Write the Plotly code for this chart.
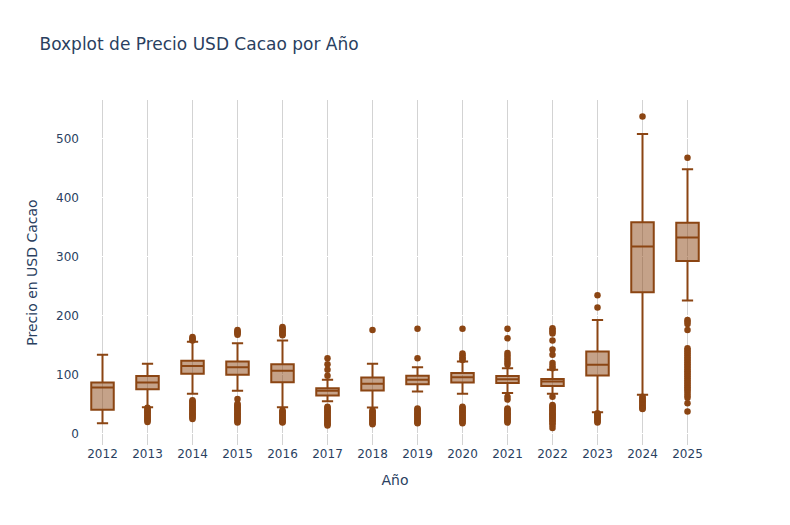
import plotly.graph_objects as go

years = ["2012", "2013", "2014", "2015", "2016", "2017", "2018",
         "2019", "2020", "2021", "2022", "2023", "2024", "2025"]
q1 = [40.7, 75.7, 101.7, 100, 87.6, 65, 73.5, 84, 87, 86, 81, 98.8, 240, 293]
median = [78.5, 87, 115, 113, 107, 73, 85, 91.5, 96, 92.6, 88.7, 117, 317.5, 333]
q3 = [87, 98, 124, 122.6, 118, 77.4, 95.5, 98.3, 103, 98, 93, 139.5, 358.8, 358]
lowerfence = [18, 45, 68, 73, 45, 55, 44.6, 71.7, 67.8, 69, 67.8, 36.7, 66, 226]
upperfence = [134, 118.6, 156, 153.6, 158, 91.5, 118.6, 113, 122.6, 111, 108.5, 193, 508.5, 448.6]

outliers = {
    "2012": [],
    "2013": [44, 42, 40, 38, 36, 34, 32, 30, 28, 26, 24, 22, 20],
    "2014": [164, 162, 160, 158, 57, 55, 53, 51, 49, 47, 45, 43, 41, 39, 37, 35, 33, 31, 29, 27, 25],
    "2015": [176, 174, 172, 170, 168, 59, 51, 49, 47, 45, 43, 41, 39, 37, 35, 33, 31, 29, 27, 25, 23, 21, 19],
    "2016": [181, 179, 177, 175, 173, 171, 169, 167, 40, 38, 36, 34, 32, 30, 28, 26, 24, 22, 20, 19],
    "2017": [128, 118, 108.5, 98.6, 46, 44, 42, 40, 38, 36, 34, 32, 30, 28, 26, 24, 22, 20, 18, 16, 14],
    "2018": [176, 40, 38, 36, 34, 32, 30, 28, 26, 24, 22, 20, 18, 16],
    "2019": [178, 128, 43, 41, 39, 37, 35, 33, 31, 29, 27, 25, 23, 21, 19, 18],
    "2020": [178, 136, 133, 130, 127, 125, 46, 44, 42, 40, 38, 36, 34, 32, 30, 28, 26, 24, 22, 20, 18],
    "2021": [178, 162, 137, 133, 129, 125, 121, 117, 63, 58, 43, 41, 39, 37, 35, 33, 31, 29, 27, 25, 23, 21, 19],
    "2022": [179, 176, 173, 170, 158, 143, 134, 120, 115, 111, 63, 49, 47, 45, 43, 41, 39, 37, 35, 33,
             31, 29, 27, 25, 23, 21, 18, 15, 10],
    "2023": [235, 214, 35, 33, 31, 29, 27, 25, 23, 21, 19],
    "2024": [538, 63, 61, 59, 57, 55, 53, 51, 49, 47, 45, 43, 42],
    "2025": [468, 193, 190, 186, 176, 145, 142, 139, 136, 133, 130, 127, 124, 121, 118, 115, 112, 109,
             106, 103, 100, 97, 94, 91, 88, 85, 82, 79, 76, 73, 69, 65, 61, 52, 38],
}

color = "#8B4513"

fig = go.Figure()
fig.add_trace(go.Box(
    x=years, q1=q1, median=median, q3=q3,
    lowerfence=lowerfence, upperfence=upperfence,
    boxpoints=False, width=0.5, whiskerwidth=0.5,
    line=dict(color=color, width=2),
    fillcolor="rgba(139,69,19,0.5)",
    showlegend=False, name="Precio",
))

ox, oy = [], []
for yr in years:
    for v in outliers[yr]:
        ox.append(yr)
        oy.append(v)
fig.add_trace(go.Scatter(
    x=ox, y=oy, mode="markers",
    marker=dict(color=color, size=6.5),
    showlegend=False, hoverinfo="y",
))

fig.update_layout(
    template="plotly",
    width=790, height=525,
    margin=dict(l=80, r=80, t=100, b=80),
    font=dict(family="DejaVu Sans"),
    title=dict(text="Boxplot de Precio USD Cacao por Año"),
    plot_bgcolor="white",
    paper_bgcolor="white",
    xaxis=dict(title="Año", type="category", showgrid=True, gridcolor="lightgray",
               range=[-0.5, 13.5]),
    yaxis=dict(title="Precio en USD Cacao", gridcolor="white", zeroline=False,
               range=[-19, 566]),
)

fig.write_html("out.html",
               config={"displayModeBar": False},
               post_script="document.body.style.margin='0';document.body.style.overflow='hidden';")
